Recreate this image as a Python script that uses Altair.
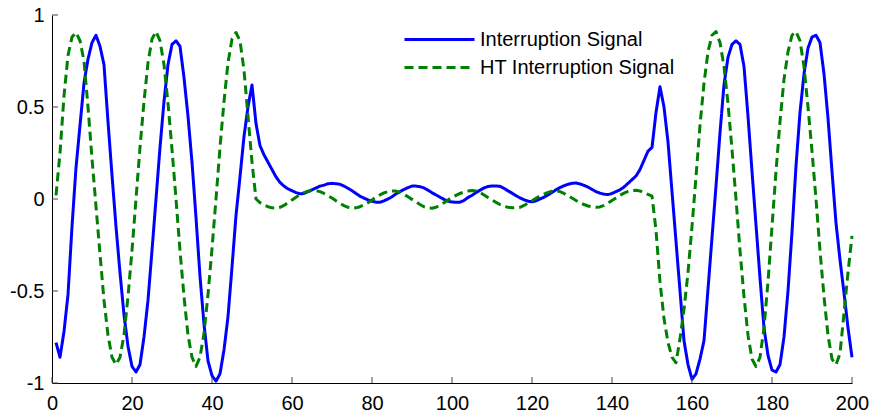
import altair as alt
import pandas as pd

# sample index (1..200)
sample_x = list(range(1, 201))

interruption = [
    -0.78, -0.86, -0.72, -0.52, -0.15, 0.17, 0.40, 0.63, 0.76, 0.85,
    0.89, 0.83, 0.73, 0.42, 0.13, -0.15, -0.40, -0.63, -0.80, -0.91,
    -0.94, -0.90, -0.75, -0.55, -0.28, 0.00, 0.28, 0.53, 0.73, 0.84,
    0.86, 0.83, 0.66, 0.45, 0.20, -0.10, -0.42, -0.68, -0.88, -0.96,
    -0.99, -0.95, -0.82, -0.64, -0.37, -0.09, 0.12, 0.34, 0.50, 0.62,
    0.41, 0.29, 0.24, 0.20, 0.16, 0.12, 0.09, 0.07, 0.055, 0.045,
    0.035, 0.028, 0.03, 0.04, 0.05, 0.06, 0.07, 0.075, 0.083, 0.085,
    0.083, 0.08, 0.07, 0.058, 0.045, 0.03, 0.015, 0.005, -0.005, -0.012,
    -0.017, -0.018, -0.01, 0.0, 0.012, 0.028, 0.04, 0.052, 0.062, 0.07,
    0.07, 0.067, 0.06, 0.048, 0.034, 0.022, 0.01, -0.002, -0.012, -0.016,
    -0.018, -0.017, -0.008, 0.008, 0.02, 0.035, 0.048, 0.06, 0.068, 0.071,
    0.071, 0.069, 0.058, 0.044, 0.032, 0.018, 0.006, -0.004, -0.012, -0.015,
    -0.01, 0.0, 0.01, 0.022, 0.036, 0.05, 0.062, 0.072, 0.08, 0.085,
    0.087, 0.082, 0.074, 0.065, 0.052, 0.04, 0.032, 0.026, 0.024, 0.03,
    0.04, 0.05, 0.065, 0.085, 0.105, 0.125, 0.16, 0.21, 0.26, 0.28,
    0.47, 0.61, 0.50, 0.31, 0.04, -0.23, -0.50, -0.77, -0.90, -0.98,
    -0.95, -0.87, -0.77, -0.49, -0.21, 0.07, 0.36, 0.62, 0.77, 0.84,
    0.86, 0.84, 0.72, 0.45, 0.15, -0.14, -0.43, -0.70, -0.85, -0.93,
    -0.94, -0.90, -0.75, -0.50, -0.18, 0.18, 0.47, 0.68, 0.82, 0.88,
    0.89, 0.85, 0.68, 0.44, 0.15, -0.13, -0.33, -0.51, -0.70, -0.86,
]

ht_interruption = [
    0.02, 0.25, 0.56, 0.78, 0.88, 0.905, 0.86, 0.75, 0.50, 0.22,
    -0.04, -0.30, -0.55, -0.74, -0.86, -0.90, -0.86, -0.74, -0.53, -0.28,
    0.0, 0.28, 0.53, 0.74, 0.87, 0.91, 0.86, 0.73, 0.52, 0.27,
    0.0, -0.28, -0.53, -0.74, -0.86, -0.91, -0.86, -0.73, -0.52, -0.27,
    0.0, 0.28, 0.53, 0.74, 0.87, 0.905, 0.86, 0.70, 0.45, 0.20,
    0.0, -0.02, -0.032, -0.042, -0.048, -0.05, -0.045, -0.035, -0.02, -0.005,
    0.01, 0.024, 0.035, 0.042, 0.046, 0.045, 0.04, 0.03, 0.018, 0.005,
    -0.01, -0.024, -0.036, -0.045, -0.05, -0.048, -0.042, -0.032, -0.02, -0.005,
    0.01, 0.022, 0.033, 0.04, 0.044, 0.043, 0.036, 0.025, 0.012, -0.002,
    -0.016, -0.03, -0.042, -0.048, -0.05, -0.045, -0.034, -0.02, -0.005, 0.008,
    0.02, 0.03, 0.038, 0.043, 0.046, 0.044, 0.036, 0.022, 0.008, -0.005,
    -0.018, -0.03, -0.04, -0.045, -0.048, -0.048, -0.045, -0.035, -0.022, -0.01,
    0.004, 0.016, 0.027, 0.036, 0.042, 0.044, 0.04, 0.03, 0.018, 0.005,
    -0.008, -0.02, -0.03, -0.038, -0.043, -0.045, -0.043, -0.035, -0.022, -0.008,
    0.006, 0.02, 0.032, 0.041, 0.046, 0.047, 0.044, 0.035, 0.025, 0.016,
    -0.17, -0.45, -0.65, -0.78, -0.86, -0.89, -0.76, -0.60, -0.40, -0.15,
    0.12, 0.40, 0.63, 0.80, 0.89, 0.91, 0.85, 0.72, 0.52, 0.27,
    0.0, -0.28, -0.53, -0.74, -0.87, -0.91, -0.86, -0.70, -0.45, -0.15,
    0.15, 0.42, 0.65, 0.80, 0.89, 0.91, 0.86, 0.72, 0.50, 0.26,
    0.0, -0.28, -0.53, -0.74, -0.87, -0.90, -0.84, -0.62, -0.40, -0.20,
]

series_names = ["Interruption Signal", "HT Interruption Signal"]
series_colors = ["#0000ff", "#008000"]
series_dash = [[1, 0], [9, 5]]
x_ticks = [0, 20, 40, 60, 80, 100, 120, 140, 160, 180, 200]
y_ticks = [-1, -0.5, 0, 0.5, 1]

FONT = "Liberation Sans"
LW = 3
xscale = alt.Scale(domain=[0, 200], nice=False, zero=False)
yscale = alt.Scale(domain=[-1, 1], nice=False, zero=False)

x_axis = alt.Axis(values=x_ticks, title=None, grid=False, tickSize=0,
                  labelFontSize=20, labelFont=FONT, labelColor="black",
                  labelPadding=10, labelFlush=False,
                  domainColor="black", domainWidth=1)
y_axis = alt.Axis(values=y_ticks, title=None, grid=False, tickSize=0,
                  labelFontSize=20, labelFont=FONT, labelColor="black",
                  labelPadding=8, labelFlush=False,
                  labelExpr="'' + datum.value",
                  domainColor="black", domainWidth=1)

legend_y = [-12, 16]

layers = []
for i, (name, vals) in enumerate(zip(series_names, [interruption, ht_interruption])):
    d = pd.DataFrame({"x": sample_x, "y": vals, "series": [name] * len(vals)})
    leg = alt.Legend(title=None, orient="none", legendX=351, legendY=legend_y[i],
                     symbolType="stroke", symbolSize=4900,
                     symbolStrokeWidth=LW, labelFontSize=20,
                     labelFont=FONT, labelColor="black",
                     labelLimit=0, labelOffset=4, padding=0)
    layer = alt.Chart(d).mark_line(strokeWidth=LW, strokeJoin="round").encode(
        x=alt.X("x:Q", scale=xscale, axis=x_axis),
        y=alt.Y("y:Q", scale=yscale, axis=y_axis),
        color=alt.Color("series:N",
                        scale=alt.Scale(domain=[name], range=[series_colors[i]]),
                        legend=leg),
        strokeDash=alt.StrokeDash("series:N",
                                  scale=alt.Scale(domain=[name], range=[series_dash[i]]),
                                  legend=None),
        order="x:Q",
    )
    layers.append(layer)

xt = alt.Chart(pd.DataFrame({"t": x_ticks})).mark_rule(color="#444", strokeWidth=1).encode(
    x=alt.X("t:Q", scale=xscale, axis=x_axis), y=alt.value(362), y2=alt.value(368)
)
yt = alt.Chart(pd.DataFrame({"t": y_ticks})).mark_rule(color="#444", strokeWidth=1).encode(
    y=alt.Y("t:Q", scale=yscale, axis=y_axis), x=alt.value(0), x2=alt.value(6)
)

chart = alt.layer(*layers, xt, yt).resolve_scale(
    color="independent", strokeDash="independent"
).properties(
    width=800, height=368,
    autosize=alt.AutoSizeParams(type="none"),
    padding={"left": 52, "top": 15, "right": 22, "bottom": 35},
    background="white",
).configure_view(stroke=None)

chart.save("out.html", embed_options={"renderer": "svg", "actions": False})
